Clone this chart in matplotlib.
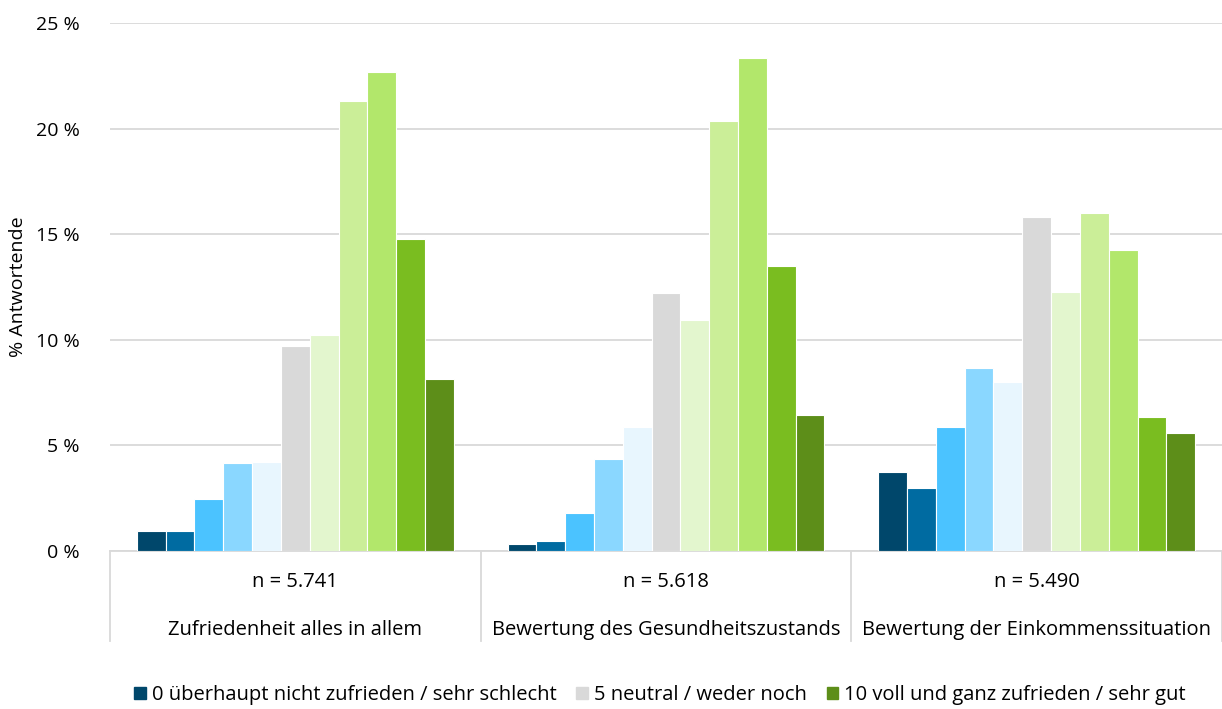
import numpy as np
import matplotlib.pyplot as plt
from matplotlib.patches import Patch

plt.rcParams['font.family'] = ['Open Sans', 'DejaVu Sans']

categories = ["Zufriedenheit alles in allem", "Bewertung des Gesundheitszustands",
              "Bewertung der Einkommenssituation"]
n_labels = ["n = 5.741", "n = 5.618", "n = 5.490"]
scale = ["0", "1", "2", "3", "4", "5", "6", "7", "8", "9", "10"]
legend_labels = {0: "0 überhaupt nicht zufrieden / sehr schlecht",
                 5: "5 neutral / weder noch",
                 10: "10 voll und ganz zufrieden / sehr gut"}

# percent per scale value, one list per category
zufriedenheit = [0.95, 0.95, 2.46, 4.17, 4.2, 9.7, 10.23, 21.3, 22.68, 14.77, 8.14]
gesundheit = [0.33, 0.47, 1.8, 4.36, 5.87, 12.2, 10.94, 20.36, 23.34, 13.49, 6.44]
einkommen = [3.74, 2.98, 5.87, 8.66, 8.0, 15.8, 12.26, 16.0, 14.25, 6.34, 5.59]

colors = ['#00476B', '#006BA1', '#4BC3FF', '#8AD7FF', '#E8F6FE', '#D9D9D9',
          '#E3F6CE', '#CBEE98', '#B2E76B', '#7ABD20', '#5D8E19']

data = np.array([zufriedenheit, gesundheit, einkommen])

fig = plt.figure(figsize=(12.22, 7.09), dpi=100)
ax = fig.add_axes([0.09, 0.2228, 0.91, 0.7448])

x = np.arange(len(categories))
w = 0.855 / len(scale)
for i in range(len(scale)):
    ax.bar(x - 0.4275 + w * (i + 0.5), data[:, i], width=w, color=colors[i],
           edgecolor='white', linewidth=0.8, zorder=3)

ax.set_xlim(-0.5, 2.5)
ax.set_ylim(0, 25)
ax.set_yticks([0, 5, 10, 15, 20, 25])
ax.set_yticklabels([f"{v} %" for v in [0, 5, 10, 15, 20, 25]], fontsize=14)
ax.yaxis.grid(True, color='#D9D9D9', linewidth=1.3, zorder=0)
ax.tick_params(axis='y', length=0, pad=22)
ax.set_xticks([])
for s in ['top', 'right', 'left']:
    ax.spines[s].set_visible(False)
ax.spines['bottom'].set_color('#D9D9D9')
ax.spines['bottom'].set_linewidth(1.3)
ax.set_ylabel("% Antwortende", fontsize=14)
ax.yaxis.set_label_coords(-0.075, 0.5)

trans = ax.get_xaxis_transform()
for b in [-0.5, 0.5, 1.5, 2.5]:
    ax.plot([b, b], [0, -0.17], transform=trans, color='#D9D9D9',
            linewidth=1.3, clip_on=False)
for i in range(len(categories)):
    ax.text(x[i], -0.059, n_labels[i], transform=trans, ha='center',
            va='center', fontsize=14.5)
    ax.text(x[i], -0.149, categories[i], transform=trans, ha='center',
            va='center', fontsize=14.5)

handles = [Patch(color=colors[k], label=v) for k, v in legend_labels.items()]
fig.legend(handles=handles, loc='center', bbox_to_anchor=(0.54, 0.02),
           ncol=3, frameon=False, fontsize=14.5, handlelength=0.55,
           handleheight=0.55, handletextpad=0.3, columnspacing=1.0)

fig.savefig('out.png', dpi=100)
